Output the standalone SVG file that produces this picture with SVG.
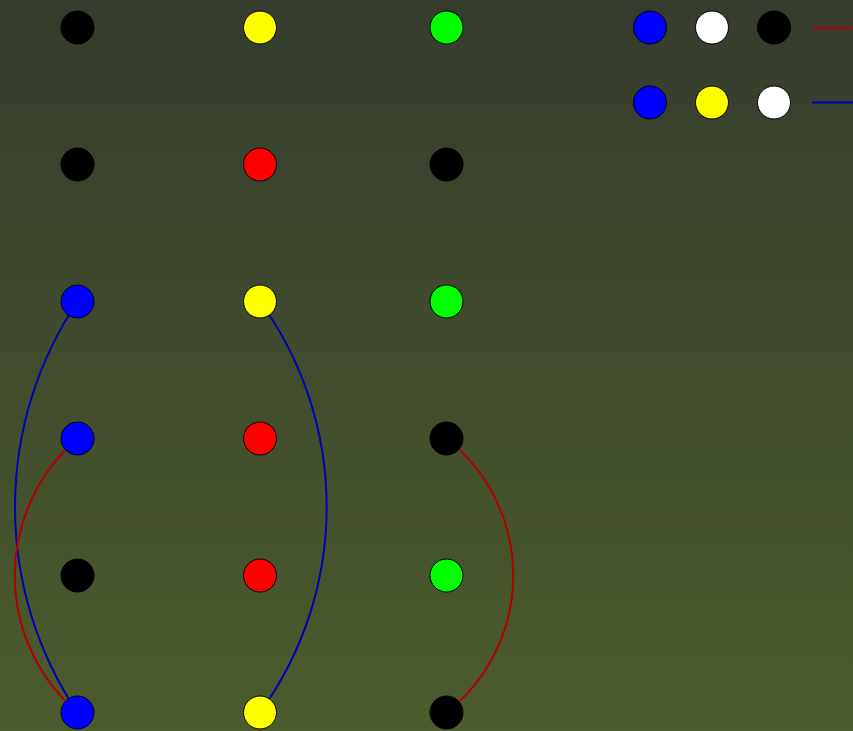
<svg xmlns="http://www.w3.org/2000/svg" width="853" height="731" viewBox="0 0 853 731">
<defs>
<linearGradient id="bg" x1="0" y1="0" x2="0" y2="1">
<stop offset="0" stop-color="#353c2d"/>
<stop offset="1" stop-color="#4c5c2e"/>
</linearGradient>
</defs>
<style>
.n{stroke:#000;stroke-width:1}
.e{fill:none;stroke-width:2}
.r{stroke:#b40000}
.b{stroke:#0000b4}
</style>
<rect width="853" height="731" fill="url(#bg)"/>
<g id="connectors">
<path class="e b" d="M77.5,301.5 A369,369 0 0 0 77.5,712.5"/>
<path class="e r" d="M77.5,438.5 A181,181 0 0 0 77.5,712.5"/>
<path class="e b" d="M260,301.5 A350,350 0 0 1 260,712.5"/>
<path class="e r" d="M446.5,438.5 A174,174 0 0 1 446.5,712.5"/>
</g>
<g id="n1"><circle class="n" cx="77.5" cy="27.5" r="16.5" fill="#000"/></g>
<g id="n2"><circle class="n" cx="260" cy="27.5" r="16.5" fill="#ffff00"/></g>
<g id="n3"><circle class="n" cx="446.5" cy="27.5" r="16.5" fill="#00ff00"/></g>
<g id="n4"><circle class="n" cx="77.5" cy="164.5" r="16.5" fill="#000"/></g>
<g id="n5"><circle class="n" cx="260" cy="164.5" r="16.5" fill="#ff0000"/></g>
<g id="n6"><circle class="n" cx="446.5" cy="164.5" r="16.5" fill="#000"/></g>
<g id="n7"><circle class="n" cx="77.5" cy="301.5" r="16.5" fill="#0000ff"/></g>
<g id="n8"><circle class="n" cx="260" cy="301.5" r="16.5" fill="#ffff00"/></g>
<g id="n9"><circle class="n" cx="446.5" cy="301.5" r="16.5" fill="#00ff00"/></g>
<g id="n10"><circle class="n" cx="77.5" cy="438.5" r="16.5" fill="#0000ff"/></g>
<g id="n11"><circle class="n" cx="260" cy="438.5" r="16.5" fill="#ff0000"/></g>
<g id="n12"><circle class="n" cx="446.5" cy="438.5" r="16.5" fill="#000"/></g>
<g id="n13"><circle class="n" cx="77.5" cy="575.5" r="16.5" fill="#000"/></g>
<g id="n14"><circle class="n" cx="260" cy="575.5" r="16.5" fill="#ff0000"/></g>
<g id="n15"><circle class="n" cx="446.5" cy="575.5" r="16.5" fill="#00ff00"/></g>
<g id="n16"><circle class="n" cx="77.5" cy="712.5" r="16.5" fill="#0000ff"/></g>
<g id="n17"><circle class="n" cx="260" cy="712.5" r="16.5" fill="#ffff00"/></g>
<g id="n18"><circle class="n" cx="446.5" cy="712.5" r="16.5" fill="#000"/></g>
<g id="legend">
<circle class="n" cx="650" cy="27.5" r="16.5" fill="#0000ff"/>
<circle class="n" cx="712" cy="27.5" r="16.5" fill="#ffffff"/>
<circle class="n" cx="774" cy="27.5" r="16.5" fill="#000"/>
<line class="e r" x1="812" y1="28" x2="853" y2="28"/>
<circle class="n" cx="650" cy="102.5" r="16.5" fill="#0000ff"/>
<circle class="n" cx="712" cy="102.5" r="16.5" fill="#ffff00"/>
<circle class="n" cx="774" cy="102.5" r="16.5" fill="#ffffff"/>
<line class="e b" x1="812" y1="102.5" x2="853" y2="102.5"/>
</g>
</svg>
